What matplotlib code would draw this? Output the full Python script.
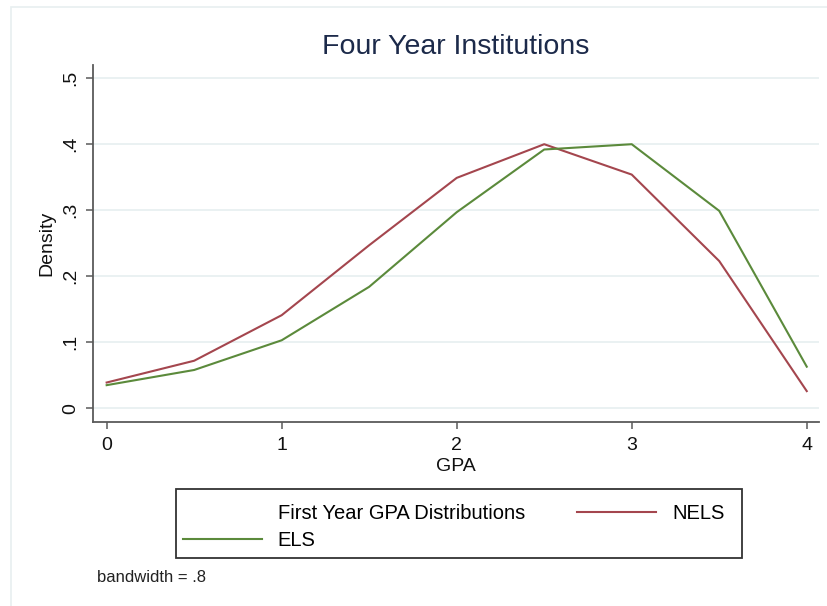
import matplotlib
matplotlib.use("Agg")
import matplotlib.pyplot as plt
from matplotlib.lines import Line2D
from matplotlib.patches import Rectangle

plt.rcParams['font.family'] = ['Liberation Sans', 'DejaVu Sans']

gpa = [0, 0.5, 1, 1.5, 2, 2.5, 3, 3.5, 4]
nels = [0.039, 0.072, 0.141, 0.247, 0.349, 0.400, 0.354, 0.223, 0.026]
els = [0.035, 0.058, 0.103, 0.184, 0.297, 0.392, 0.400, 0.299, 0.063]
xticks = [0, 1, 2, 3, 4]
yticks = [0, 0.1, 0.2, 0.3, 0.4, 0.5]
yticklabels = ['0', '.1', '.2', '.3', '.4', '.5']

W, H = 827, 606
fig = plt.figure(figsize=(W / 100, H / 100), dpi=100)
fig.patch.set_facecolor('white')

# outer graph-region border
fig.patches.append(Rectangle((11 / W, -0.05), 1.2, 1 - 7 / H + 0.05, transform=fig.transFigure,
                             fill=False, edgecolor='#e8eff0', linewidth=1.2, zorder=0))

ax = fig.add_axes([93 / W, 1 - 422 / H, (819 - 93) / W, (422 - 65) / H])
ax.set_facecolor('white')

red = '#a4464e'
green = '#5b8a3b'
ax.plot(gpa, nels, color=red, lw=1.5, zorder=3)
ax.plot(gpa, els, color=green, lw=1.5, zorder=3)

ax.set_xlim(-0.078, 4.07)
ax.set_ylim(-0.0208, 0.520)
ax.set_xticks(xticks)
ax.set_xticklabels([str(t) for t in xticks], fontsize=14)
ax.set_yticks(yticks)
ax.set_yticklabels(yticklabels, fontsize=14, rotation=90, va='center')
ax.grid(axis='y', color='#e8f0f1', lw=1.3, zorder=0)
ax.grid(axis='x', visible=False)

for s in ['top', 'right']:
    ax.spines[s].set_visible(False)
for s in ['left', 'bottom']:
    ax.spines[s].set_color('#5a5a5a')
    ax.spines[s].set_linewidth(1.3)
ax.tick_params(direction='out', length=5, width=1.1, color='#5a5a5a', labelcolor='#111111')
ax.tick_params(axis='x', pad=6)
ax.tick_params(axis='y', pad=5)

ax.set_xlabel('GPA', fontsize=14, labelpad=3, color='#111111')
ax.set_ylabel('Density', fontsize=14, labelpad=5, color='#111111')

fig.text(456 / W, 1 - 47 / H, 'Four Year Institutions', fontsize=20.5, color='#1c2a4a',
         ha='center', va='center')

handles = [Line2D([], [], color='none'), Line2D([], [], color=green, lw=1.5),
           Line2D([], [], color=red, lw=1.5)]
labels = ['First Year GPA Distributions', 'ELS', 'NELS']
leg = fig.legend(handles, labels, ncol=2, loc='upper left',
                 bbox_to_anchor=(176 / W, 1 - 497 / H), bbox_transform=fig.transFigure,
                 fontsize=14.5, frameon=False, handlelength=3.92,
                 handletextpad=0.78, columnspacing=2.6, labelspacing=0.4,
                 borderpad=0.35, borderaxespad=0)

# legend frame
fig.patches.append(Rectangle((176 / W, 1 - 558 / H), (742 - 176) / W, (558 - 489) / H,
                             transform=fig.transFigure, fill=False, edgecolor='#333333',
                             linewidth=1.3, zorder=5))

fig.text(97 / W, 1 - 577 / H, 'bandwidth = .8', fontsize=12, color='#222222',
         ha='left', va='center')

fig.savefig('out.png', dpi=100)
